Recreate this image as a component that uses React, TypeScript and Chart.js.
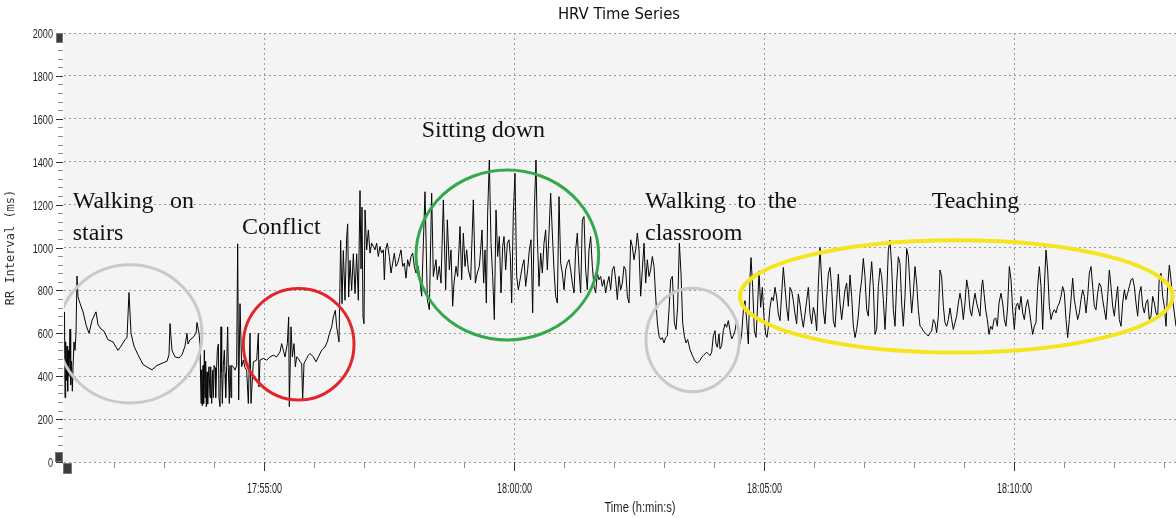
import React, { useEffect, useRef } from 'react';
import { Chart, registerables } from 'chart.js';

Chart.register(...registerables);

// time axis: seconds after 17:51:00
const START_SEC = 17 * 3600 + 51 * 60;
const X_MIN = 0;
const X_MAX = 1408.8;
const MAJOR_X_TICKS = [240, 540, 840, 1140]; // 17:55:00 .. 18:10:00
const MINOR_X_STEP = 60;
const Y_MIN = 0;
const Y_MAX = 2000;
const Y_MAJOR_STEP = 200;
const Y_MINOR_STEP = 40;

// [seconds, RR interval ms]
const walkingStairs: [number, number][] = [
  [0.6, 700], [1.2, 300], [2, 560], [2.8, 380], [3.6, 540], [4.4, 330], [5.2, 520], [6, 400], [7.2, 620], [8, 360],
  [9, 470], [10, 330], [10.8, 440], [12, 560], [13.2, 520], [14.4, 600], [15.6, 867], [16.8, 770], [19.2, 740], [22.8, 700],
  [26.4, 640], [30, 600], [33.6, 660], [38.4, 700], [40.8, 640], [44.4, 620], [48, 610], [52.8, 570], [58.8, 560], [64.8, 520],
  [68.4, 540], [73.2, 570], [75.6, 580], [78, 790], [80.4, 600], [84, 540], [88.8, 500], [94.8, 455], [100.8, 440], [105.6, 430],
  [111.6, 450], [117.6, 460], [123.6, 470], [126, 500], [127.2, 645], [129.6, 520], [133.2, 490], [138, 485], [141.6, 500], [145.2, 540],
  [147.6, 600], [148.8, 550], [151.2, 570], [154.8, 580], [158.4, 600], [159.6, 650], [162, 600], [163.2, 550],
];

const conflict: [number, number][] = [
  [164.4, 273], [165.2, 430], [166, 262], [166.8, 450], [167.6, 273], [168.4, 521], [169.2, 300], [170, 470], [170.8, 258], [171.6, 420],
  [172.4, 270], [173.2, 400], [174, 444], [175.2, 300], [176, 444], [177.2, 273], [178.4, 428], [179.2, 300], [180, 450], [181.2, 440],
  [182, 300], [183.2, 444], [184, 520], [185.2, 550], [186, 300], [187.2, 258], [188.4, 630], [189.2, 420], [190, 273], [191.2, 450],
  [192.4, 521], [193.2, 412], [194, 300], [195.2, 450], [196.4, 630], [197.2, 440], [198.4, 273], [199.2, 450], [200.4, 300], [201.2, 450],
  [203.2, 444], [205.2, 428], [207.2, 450], [208.4, 1017], [209.6, 289], [211.2, 738], [213.2, 444], [215.2, 475], [217.2, 440], [219.2, 428],
  [221.2, 273], [223.2, 600], [224.4, 273], [227.2, 467], [231.2, 475], [233.2, 600], [234, 350], [235.2, 475], [239.2, 483], [243.2, 475],
  [247.2, 490], [251.2, 498], [255.2, 490], [259.2, 513], [261.2, 552], [263.2, 521], [265.2, 490], [268, 552], [269.6, 676], [270.4, 258],
  [272.4, 630], [274, 490], [276, 552], [277.6, 444], [279.2, 490], [281.2, 483], [283.2, 467], [285.2, 460], [286.4, 289], [288, 460],
  [291.2, 483], [293.2, 498], [295.2, 506], [299.2, 490], [302.4, 467], [305.2, 490], [309.2, 521], [313.2, 537], [316, 560], [318.4, 598],
  [321.2, 630], [323.2, 676], [325.6, 707], [327.2, 630], [330, 560],
];

const settling: [number, number][] = [
  [332, 1033], [333.6, 738], [335.2, 986], [337.2, 754], [339.2, 1048], [340.4, 1110], [341.6, 769], [343.2, 940], [345.2, 800], [347.2, 971],
  [349.2, 785], [351.2, 971], [353.2, 754], [355.2, 1265], [356.4, 900], [357.6, 1188], [358.8, 676], [360, 645], [361.2, 1175], [363.2, 989],
  [365.2, 1082], [367.2, 974], [369.2, 1020], [371.2, 1005], [373.2, 989], [375.2, 1020], [377.2, 958], [379.2, 1005], [381.2, 974], [383.2, 989],
  [384.4, 850], [386, 989], [388, 1020], [390.4, 958], [392.4, 881], [394.4, 927], [396.4, 974], [398.4, 912], [400.4, 927], [402.4, 958],
  [404.4, 989], [406.4, 912], [408.4, 927], [410.4, 857], [412.4, 943], [414.4, 912], [416.4, 958], [418.4, 974], [420.4, 912], [422.4, 881],
  [425.2, 912],
];

const sittingDown: [number, number][] = [
  [429.2, 773], [433.2, 1260], [436, 757], [438.4, 710], [441.2, 1253], [443.2, 865], [446.4, 943], [448, 850], [450.4, 912], [452.4, 834],
  [455.2, 1222], [458, 803], [460, 1129], [462.4, 896], [464.4, 989], [466.4, 726], [468, 834], [470.4, 912], [472.4, 865], [475.2, 1098],
  [477.2, 850], [479.2, 1067], [481.2, 912], [483.2, 989], [485.2, 896], [488, 850], [491.2, 1222], [493.6, 834], [496, 881], [498.4, 912],
  [500, 989], [501.6, 1082], [503.6, 834], [505.2, 989], [506.8, 741], [508.4, 1160], [510.4, 1408], [512.4, 1020], [514.4, 865], [516.4, 664],
  [518.4, 1175], [520.4, 958], [522.4, 1051], [524.4, 788], [526.4, 1005], [528, 1051], [530, 896], [532, 1020], [534, 1036], [535.6, 958],
  [537.2, 741], [539.2, 1160], [541.2, 1346], [543.2, 865], [545.2, 803], [550, 912], [552, 943], [554, 819], [556.4, 896], [558.4, 989],
  [560.4, 1036], [562.4, 695], [564.4, 1175], [566.4, 1408], [568, 1051], [570, 819], [572, 974], [574, 881], [576, 1020], [578, 1082],
  [580, 896], [582, 1067], [584, 1253], [586, 1067], [588, 896], [590, 773], [592, 741], [594, 1237], [596, 927], [598, 881],
  [600, 803],
];

const walkingClassroom: [number, number][] = [
  [602, 896], [604, 927], [606, 943], [608, 896], [610, 834], [612, 788], [614, 989], [616, 1067], [618, 896], [620, 788],
  [622, 1129], [624, 1144], [626, 896], [628, 803], [630, 989], [632, 1051], [634, 912], [636, 819], [638, 788], [640, 881],
  [642, 850], [644, 865], [646, 819], [648, 850], [650, 788], [652, 834], [654, 865], [656, 803], [658, 896], [660, 912],
  [662, 850], [664, 757], [666, 865], [668, 803], [670, 834], [672, 912], [674, 896], [676, 773], [678, 741], [680, 1036],
  [682, 1005], [684, 943], [686, 989], [688, 1067], [690, 989], [692, 773], [694, 896], [696, 1020], [698, 834], [700, 943],
  [702, 865], [704, 896], [706, 958], [708, 912], [710, 773], [712, 649], [714, 587], [716, 571], [718, 580], [720, 555],
  [722, 580], [724, 587], [726, 710], [728, 850], [730, 865], [731.2, 773], [732.4, 649], [734.4, 618], [736.4, 726], [738.4, 1020],
  [740.4, 881], [742.4, 649], [744.4, 587], [746.4, 555], [748.4, 571], [751.2, 524], [754.4, 493], [757.2, 470], [760, 462], [763.2, 473],
  [765.2, 489], [767.2, 496], [769.2, 504], [771.2, 512], [773.2, 504], [775.2, 496], [777.2, 512], [779.2, 589], [781.2, 612], [782.4, 550],
  [784, 535], [786, 597], [787.2, 527], [789.2, 543], [791.2, 612], [793.2, 644], [795.2, 628], [797.2, 659], [799.2, 612], [801.2, 574],
  [803.2, 589], [805.2, 612], [807.2, 659], [809.2, 628], [811.2, 550], [813.2, 597], [815.2, 705], [817.2, 752], [819.2, 659], [821.2, 550],
];

const teaching: [number, number][] = [
  [823.2, 860], [824.4, 953], [826.4, 814], [828.4, 612], [830.4, 581], [832.4, 736], [834, 891], [836, 721], [838, 814], [840, 674],
  [842, 597], [843.6, 581], [845.2, 628], [847.2, 721], [849.2, 768], [851.2, 752], [853.2, 814], [855.2, 768], [857.2, 690], [859.2, 659],
  [861.2, 783], [863.2, 907], [865.2, 814], [867.2, 721], [869.2, 659], [871.2, 814], [873.2, 798], [875.2, 752], [877.2, 690], [879.2, 644],
  [881.2, 783], [883.2, 736], [885.2, 674], [887.2, 628], [889.2, 690], [891.2, 752], [893.2, 814], [895.2, 690], [897.2, 644], [899.2, 721],
  [901.2, 690], [903.2, 612], [905.2, 830], [907.2, 1000], [909.2, 845], [911.2, 705], [913.2, 644], [915.2, 768], [917.2, 876], [919.2, 907],
  [921.2, 814], [923.2, 659], [925.2, 628], [927.2, 752], [929.2, 876], [931.2, 741], [933.2, 664], [937.2, 803], [939.2, 834], [941.2, 726],
  [943.2, 872], [945.2, 772], [947.2, 633], [949.2, 580], [951.2, 618], [953.2, 680], [955.2, 787], [957.2, 849], [959.2, 949], [961.2, 864],
  [963.2, 710], [965.2, 680], [967.2, 834], [969.2, 934], [971.2, 818], [973.2, 595], [975.2, 618], [977.2, 818], [979.2, 903], [981.2, 864],
  [983.2, 757], [985.2, 618], [987.2, 772], [989.2, 988], [991.2, 1034], [993.2, 911], [995.2, 710], [997.2, 633], [999.2, 834], [1001.2, 957],
  [1003.2, 926], [1005.2, 741], [1007.2, 633], [1009.2, 772], [1011.2, 995], [1013.2, 957], [1015.2, 818], [1017.2, 695], [1019.2, 787], [1021.2, 911],
  [1023.2, 834], [1025.2, 710], [1027.2, 633], [1029.2, 626], [1031.2, 610], [1033.2, 603], [1035.2, 595], [1037.2, 587], [1039.2, 603], [1041.2, 610],
  [1043.2, 664], [1045.2, 649], [1047.2, 603], [1049.2, 680], [1051.2, 895], [1053.2, 864], [1055.2, 726], [1057.2, 649], [1059.2, 633], [1061.2, 664],
  [1063.2, 718], [1065.2, 664], [1067.2, 618], [1069.2, 649], [1071.2, 680], [1073.2, 741], [1075.2, 787], [1077.2, 741], [1079.2, 664], [1081.2, 741],
  [1083.2, 849], [1085.2, 803], [1087.2, 710], [1089.2, 680], [1091.2, 741], [1093.2, 787], [1095.2, 741], [1097.2, 710], [1099.2, 680], [1101.2, 818],
  [1102.4, 849], [1104, 787], [1106, 710], [1108, 664], [1110, 595], [1112, 633], [1114, 618], [1116, 664], [1118, 672], [1120, 633],
  [1122, 741], [1124.4, 787], [1126.4, 741], [1128.4, 664], [1130.4, 633], [1132.4, 726], [1134.4, 911], [1136.4, 849], [1138.4, 710], [1140.4, 618],
  [1142.4, 726], [1144.4, 741], [1146.4, 710], [1148.4, 772], [1150.4, 695], [1152.4, 664], [1154.4, 726], [1156.4, 757], [1158.4, 710], [1160.4, 649],
  [1162.4, 595], [1164.4, 633], [1166.4, 649], [1168.4, 818], [1170.4, 911], [1172.4, 818], [1174.4, 618], [1176.4, 818], [1178.4, 988], [1180.4, 895],
  [1182.4, 726], [1184.4, 664], [1186.4, 695], [1188.4, 710], [1190.4, 695], [1192.4, 726], [1194.4, 741], [1196.4, 772], [1198.4, 818], [1200.4, 787],
  [1202.4, 664], [1204.4, 580], [1206.4, 664], [1208.4, 757], [1210.4, 857], [1212.4, 757], [1214.4, 710], [1216.4, 664], [1218.4, 695], [1220.4, 757],
  [1222.4, 803], [1224.4, 772], [1226.4, 695], [1228.4, 772], [1230.4, 880], [1232.4, 911], [1234.4, 818], [1236.4, 726], [1238.4, 710], [1240.4, 787],
  [1242.4, 834], [1244.4, 818], [1246.4, 757], [1248.4, 710], [1250.4, 664], [1252.4, 772], [1254.4, 895], [1256.4, 818], [1258.4, 726], [1260.4, 680],
  [1262.4, 757], [1264.4, 818], [1266.4, 664], [1268.4, 633], [1270.4, 741], [1272.4, 803], [1274.4, 757], [1276.4, 787], [1278.4, 818], [1280.4, 849],
  [1282.4, 857], [1284.4, 818], [1286.4, 741], [1288.4, 680], [1290.4, 787], [1292.4, 818], [1294.4, 726], [1296.4, 695], [1298.4, 741], [1300.4, 757],
  [1302.4, 664], [1304.4, 680], [1306.4, 772], [1308.4, 741], [1310.4, 695], [1312.4, 680], [1314.4, 864], [1316.4, 880], [1318.4, 772], [1320.4, 726],
  [1322.4, 633], [1324.4, 818], [1326.4, 918], [1328.4, 849], [1330.4, 757], [1332.4, 695], [1334.4, 633],
];

// annotation ellipses, in data units: centre (t, rr), radii (dt seconds, drr ms)
const ellipseNotes = [
  { t: 79.2, rr: 597, dt: 86.4, drr: 322, color: '#c9c9c9', width: 3 },
  { t: 281.6, rr: 549, dt: 66.4, drr: 260, color: '#e2252b', width: 3 },
  { t: 532, rr: 965, dt: 109.6, drr: 396, color: '#34a84a', width: 3 },
  { t: 754.4, rr: 569, dt: 56, drr: 241, color: '#c9c9c9', width: 3 },
  { t: 1070.8, rr: 772, dt: 259.6, drr: 262, color: '#f4e51e', width: 4 },
];

// annotation words, left/baseline anchored in data units
const textNotes = [
  { text: 'Walking', t: 10.4, rr: 1185 },
  { text: 'on', t: 127.2, rr: 1185 },
  { text: 'stairs', t: 10.4, rr: 1037 },
  { text: 'Conflict', t: 213.6, rr: 1063 },
  { text: 'Sitting down', t: 429.2, rr: 1517 },
  { text: 'Walking', t: 697.2, rr: 1185 },
  { text: 'to', t: 808, rr: 1185 },
  { text: 'the', t: 844.4, rr: 1185 },
  { text: 'classroom', t: 697.2, rr: 1037 },
  { text: 'Teaching', t: 1041.2, rr: 1185 },
];

const X_TITLE = 'Time (h:min:s)';
const X_TITLE_CENTER_T = 691.2; // centre of the (uncropped) time axis
const SANS = '"Liberation Sans", Arial, sans-serif';

function fmtTime(t: number): string {
  const s = Math.round(START_SEC + t);
  const h = Math.floor(s / 3600);
  const m = Math.floor((s % 3600) / 60);
  const sec = s % 60;
  const p = (n: number) => String(n).padStart(2, '0');
  return `${h}:${p(m)}:${p(sec)}`;
}

const isMajorX = (v: number) => MAJOR_X_TICKS.includes(Math.round(v));

function narrowText(ctx: CanvasRenderingContext2D, text: string, x: number, y: number, font: string, sx: number, align: CanvasTextAlign) {
  ctx.save();
  ctx.translate(x, y);
  ctx.scale(sx, 1);
  ctx.font = font;
  ctx.textAlign = align;
  ctx.textBaseline = 'alphabetic';
  ctx.fillText(text, 0, 0);
  ctx.restore();
}

const decorPlugin = {
  id: 'decor',
  beforeDraw(chart: any) {
    const { ctx, chartArea } = chart;
    ctx.save();
    ctx.fillStyle = '#ffffff';
    ctx.fillRect(0, 0, chart.width, chart.height);
    ctx.fillStyle = '#f4f4f4';
    ctx.fillRect(chartArea.left, chartArea.top, chartArea.right - chartArea.left, chartArea.bottom - chartArea.top);
    ctx.restore();
  },
  afterDatasetsDraw(chart: any) {
    const { ctx, chartArea } = chart;
    const xs = chart.scales.x;
    const ys = chart.scales.y;
    ctx.save();
    ctx.beginPath();
    ctx.rect(chartArea.left, chartArea.top, chartArea.right - chartArea.left, chartArea.bottom - chartArea.top);
    ctx.clip();
    for (const e of ellipseNotes) {
      const cx = xs.getPixelForValue(e.t);
      const cy = ys.getPixelForValue(e.rr);
      const rx = Math.abs(xs.getPixelForValue(e.t + e.dt) - cx);
      const ry = Math.abs(ys.getPixelForValue(e.rr + e.drr) - cy);
      ctx.beginPath();
      ctx.ellipse(cx, cy, rx, ry, 0, 0, Math.PI * 2);
      ctx.strokeStyle = e.color;
      ctx.lineWidth = e.width;
      ctx.stroke();
    }
    ctx.restore();
    ctx.save();
    ctx.fillStyle = '#111111';
    ctx.font = '24px "Liberation Serif", "Times New Roman", serif';
    ctx.textAlign = 'left';
    ctx.textBaseline = 'alphabetic';
    for (const n of textNotes) {
      ctx.fillText(n.text, xs.getPixelForValue(n.t), ys.getPixelForValue(n.rr));
    }
    ctx.restore();
  },
  afterDraw(chart: any) {
    const { ctx, chartArea } = chart;
    const xs = chart.scales.x;
    const ys = chart.scales.y;
    ctx.save();
    ctx.lineWidth = 1;
    // x tick marks and labels
    for (const tk of xs.ticks) {
      const t = tk.value;
      const px = Math.round(xs.getPixelForValue(t)) + 0.5;
      const major = isMajorX(t);
      ctx.strokeStyle = major ? '#333333' : '#8a8a8a';
      ctx.beginPath();
      ctx.moveTo(px, chartArea.bottom);
      ctx.lineTo(px, chartArea.bottom + (major ? 9 : 6));
      ctx.stroke();
      if (major) {
        ctx.fillStyle = '#1e1e1e';
        narrowText(ctx, fmtTime(t), px, chartArea.bottom + 31, `15px ${SANS}`, 0.6, 'center');
      }
    }
    // y tick marks and labels
    for (const tk of ys.ticks) {
      const v = tk.value;
      const py = Math.round(ys.getPixelForValue(v)) + 0.5;
      const major = v % Y_MAJOR_STEP === 0;
      ctx.strokeStyle = major ? '#333333' : '#8a8a8a';
      ctx.beginPath();
      ctx.moveTo(chartArea.left - (major ? 8 : 6), py);
      ctx.lineTo(chartArea.left - 1, py);
      ctx.stroke();
      if (major) {
        ctx.fillStyle = '#1e1e1e';
        narrowText(ctx, String(v), chartArea.left - 11, py + 4, `12px ${SANS}`, 0.76, 'right');
      }
    }
    // x axis title
    ctx.fillStyle = '#1e1e1e';
    narrowText(ctx, X_TITLE, xs.getPixelForValue(X_TITLE_CENTER_T), chartArea.bottom + 50, `14px ${SANS}`, 0.8, 'center');
    // scroll handles
    ctx.fillStyle = '#3d3d3d';
    ctx.strokeStyle = '#7a7a7a';
    const boxes = [
      [chartArea.left - 8, chartArea.top, 7, 10],
      [chartArea.left - 9, chartArea.bottom - 10, 8, 10],
      [chartArea.left - 1, chartArea.bottom + 1, 9, 11],
    ];
    for (const [bx, by, bw, bh] of boxes) {
      ctx.fillRect(bx, by, bw, bh);
      ctx.strokeRect(bx + 0.5, by + 0.5, bw - 1, bh - 1);
    }
    ctx.restore();
  },
};

export default function App() {
  const canvasRef = useRef<HTMLCanvasElement | null>(null);

  useEffect(() => {
    document.body.style.margin = '0';
    document.body.style.overflow = 'hidden';
    const canvas = canvasRef.current;
    if (!canvas) return;
    const series = [...walkingStairs, ...conflict, ...settling, ...sittingDown, ...walkingClassroom, ...teaching].map(
      ([x, y]) => ({ x, y })
    );
    const chart = new Chart(canvas, {
      type: 'line',
      data: {
        datasets: [
          {
            label: 'RR Interval',
            data: series,
            borderColor: '#050505',
            borderWidth: 1,
            pointRadius: 0,
            tension: 0,
            fill: false,
          },
        ],
      },
      options: {
        animation: false,
        responsive: false,
        events: [],
        layout: { padding: { left: 0, right: 0, top: 0, bottom: 0 } },
        plugins: {
          legend: { display: false },
          tooltip: { enabled: false },
          title: {
            display: true,
            text: 'HRV Time Series',
            color: '#111111',
            font: { family: '"DejaVu Sans Condensed", "DejaVu Sans", sans-serif', size: 16.5, weight: 'normal' },
            padding: { top: 5, bottom: 8.2 },
          },
        },
        scales: {
          x: {
            type: 'linear',
            min: X_MIN,
            max: X_MAX,
            afterBuildTicks: (scale: any) => {
              const ticks = [];
              for (let t = MINOR_X_STEP; t < X_MAX; t += MINOR_X_STEP) ticks.push({ value: t });
              scale.ticks = ticks;
            },
            afterFit: (scale: any) => {
              scale.height = 56;
            },
            ticks: {
              display: false,
              autoSkip: false,
              maxRotation: 0,
            },
            grid: {
              color: (c: any) => (c.tick && isMajorX(c.tick.value) ? '#9a9a9a' : 'rgba(0,0,0,0)'),
              lineWidth: 1,
              drawTicks: false,
            },
            border: { display: false, dash: [2, 3] },
            title: { display: false },
          },
          y: {
            type: 'linear',
            min: Y_MIN,
            max: Y_MAX,
            afterFit: (scale: any) => {
              scale.width = 64;
            },
            ticks: {
              display: false,
              stepSize: Y_MINOR_STEP,
              autoSkip: false,
            },
            grid: {
              color: (c: any) => (c.tick && c.tick.value % Y_MAJOR_STEP === 0 ? '#9a9a9a' : 'rgba(0,0,0,0)'),
              lineWidth: 1,
              drawTicks: false,
            },
            border: { display: false, dash: [2, 3] },
            title: {
              display: true,
              text: 'RR Interval (ms)',
              color: '#333333',
              font: { family: '"DejaVu Sans Mono", monospace', size: 12 },
              padding: { top: 4, bottom: 4 },
            },
          },
        },
      },
      plugins: [decorPlugin],
    });
    return () => chart.destroy();
  }, []);

  return (
    <div style={{ width: 1238, height: 518, overflow: 'hidden' }}>
      <canvas ref={canvasRef} width={1238} height={518} style={{ display: 'block' }} />
    </div>
  );
}
